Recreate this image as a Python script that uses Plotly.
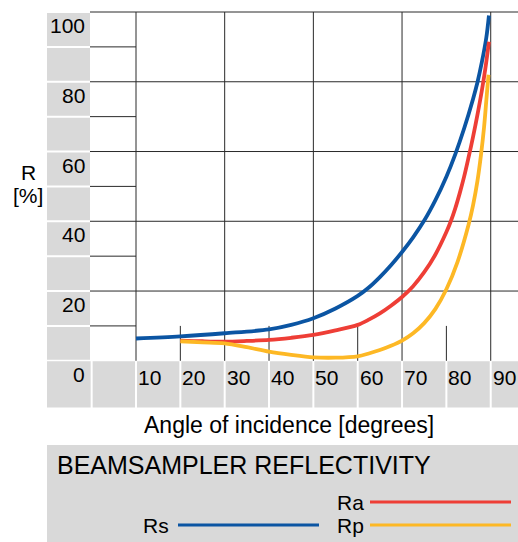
import plotly.graph_objects as go

# ---------------- data ----------------
angles_s = [10, 20, 30, 40, 45, 50, 55, 60, 62.5, 65, 67.5, 70, 72.5, 75, 77.5, 80, 82, 84, 86, 87, 88, 89, 89.6]
rs = [6.4, 7.0, 7.9, 9.0, 10.3, 12.2, 15.0, 18.6, 21.0, 24.0, 27.4, 31.2, 35.4, 40.2, 46.0, 52.8, 59.2, 66.6, 75.0, 79.8, 85.6, 92.6, 99.0]

angles_a = [20, 25, 30, 35, 40, 45, 50, 55, 60, 62.5, 65, 67.5, 70, 72.5, 75, 77.5, 80, 81, 82, 83, 84, 85, 86, 87, 88, 88.8, 89.6]
ra = [5.8, 5.6, 5.5, 5.7, 6.0, 6.6, 7.4, 8.7, 10.3, 11.8, 13.6, 15.8, 18.3, 21.4, 25.4, 30.4, 36.9, 40.0, 43.7, 48.0, 52.8, 58.3, 64.1, 70.5, 77.5, 83.9, 91.5]

angles_p = [20, 25, 30, 35, 40, 45, 50, 55, 60, 62.5, 65, 67.5, 70, 72.5, 75, 77.5, 80, 82.5, 85, 86, 87, 87.8, 88.5, 89, 89.5]
rp = [5.6, 5.3, 5.0, 3.9, 2.6, 1.7, 1.0, 0.9, 1.3, 2.1, 3.1, 4.3, 5.8, 7.9, 10.8, 14.8, 20.5, 28.3, 39.0, 44.5, 51.5, 59.0, 67.0, 74.5, 82.0]

x_ticks = [10, 20, 30, 40, 50, 60, 70, 80, 90]
y_ticks = [0, 20, 40, 60, 80, 100]
x_full = [10, 30, 50, 70, 90]
x_short = [20, 40, 60, 80]
y_full = [20, 40, 60, 80, 100]
y_short = [10, 30, 50, 70, 90]

series = [
    ("Rs", angles_s, rs, "#0b55a3"),
    ("Ra", angles_a, ra, "#ee3e36"),
    ("Rp", angles_p, rp, "#fdb825"),
]

# ---------------- calibration (pixels) ----------------
W, H = 518, 542
X_ZERO_PX, PX_PER_DEG = 91.66, 4.434
Y_ZERO_PX, PX_PER_PCT = 360.8, 3.488


def dx(p):
    return (p - X_ZERO_PX) / PX_PER_DEG


def dy(p):
    return (Y_ZERO_PX - p) / PX_PER_PCT


x_range = [dx(0), dx(W)]
y_range = [dy(H), dy(0)]

GRAY = "#d9d9d9"
GRID = "#2a2a2a"
FONT = "Liberation Sans, Arial, Helvetica, sans-serif"

fig = go.Figure()
for name, xs, ys, col in series:
    fig.add_trace(go.Scatter(x=xs, y=ys, mode="lines", name=name,
                             line=dict(color=col, width=3.8, shape="spline", smoothing=0.9),
                             showlegend=False, hoverinfo="x+y+name"))

shapes = []
gx = 1.0 / PX_PER_DEG
gy = 1.0 / PX_PER_PCT
# left label column boxes
for v in range(10, 101, 10):
    shapes.append(dict(type="rect", xref="x", yref="y", x0=dx(47), x1=dx(90),
                       y0=v - 10 + gy, y1=v - gy, fillcolor=GRAY, line=dict(width=0), layer="below"))
# bottom label row boxes
for k in range(-1, 10):
    x0 = dx(47) if k == -1 else 10 * k + gx
    shapes.append(dict(type="rect", xref="x", yref="y", x0=x0, x1=10 * k + 10 - gx,
                       y0=dy(407.5), y1=dy(361.3), fillcolor=GRAY, line=dict(width=0), layer="below"))
# grid lines
for v in y_full:
    shapes.append(dict(type="line", xref="x", yref="y", x0=dx(90), x1=x_range[1], y0=v, y1=v,
                       line=dict(color=GRID, width=1), layer="below"))
for v in y_short:
    shapes.append(dict(type="line", xref="x", yref="y", x0=dx(90), x1=10, y0=v, y1=v,
                       line=dict(color=GRID, width=1), layer="below"))
for a in x_full:
    shapes.append(dict(type="line", xref="x", yref="y", x0=a, x1=a, y0=0, y1=100,
                       line=dict(color=GRID, width=1), layer="below"))
for a in x_short:
    shapes.append(dict(type="line", xref="x", yref="y", x0=a, x1=a, y0=0, y1=10,
                       line=dict(color=GRID, width=1), layer="below"))
# title / legend box
shapes.append(dict(type="rect", xref="x", yref="y", x0=dx(47), x1=x_range[1],
                   y0=y_range[0], y1=dy(445), fillcolor=GRAY, line=dict(width=0), layer="below"))
# legend lines
leg = {"Rs": (178, 319, 525), "Ra": (370, 511, 502), "Rp": (370, 511, 525)}
for name, xs, ys, col in series:
    a, b, yy = leg[name]
    shapes.append(dict(type="line", xref="x", yref="y", x0=dx(a), x1=dx(b), y0=dy(yy), y1=dy(yy),
                       line=dict(color=col, width=3), layer="above"))


def txt(x, y, s, size, xa="center", ya="middle", yshift=0):
    return dict(x=x, y=y, xref="x", yref="y", text=s, showarrow=False, xanchor=xa, yanchor=ya,
                yshift=yshift, font=dict(size=size, family=FONT, color="black"))


ann = []
for v in y_ticks:
    ann.append(txt(dx(86.5), v, str(v), 21, "right", "top", 0))
for a in x_ticks:
    ann.append(txt(a, 0, str(a), 21, "left", "top", -3))
ann.append(txt(dx(289), dy(425), "Angle of incidence [degrees]", 23))
ann.append(txt(dx(28), dy(172), "R", 21))
ann.append(txt(dx(28), dy(195), "[%]", 21))
ann.append(txt(dx(55), dy(465), "BEAMSAMPLER REFLECTIVITY", 25, "left"))
ann.append(txt(dx(171), dy(525), "Rs", 21, "right"))
ann.append(txt(dx(335), dy(502), "Ra", 21, "left"))
ann.append(txt(dx(335), dy(525), "Rp", 21, "left"))

fig.update_layout(
    width=W, height=H, autosize=False,
    margin=dict(l=0, r=0, t=0, b=0, pad=0),
    paper_bgcolor="white", plot_bgcolor="white",
    xaxis=dict(range=x_range, visible=False, fixedrange=True),
    yaxis=dict(range=y_range, visible=False, fixedrange=True),
    shapes=shapes, annotations=ann,
    font=dict(family=FONT),
)

fig.write_html("out.html", config={"displayModeBar": False},
               post_script="document.body.style.margin='0px';document.body.style.padding='0px';")
